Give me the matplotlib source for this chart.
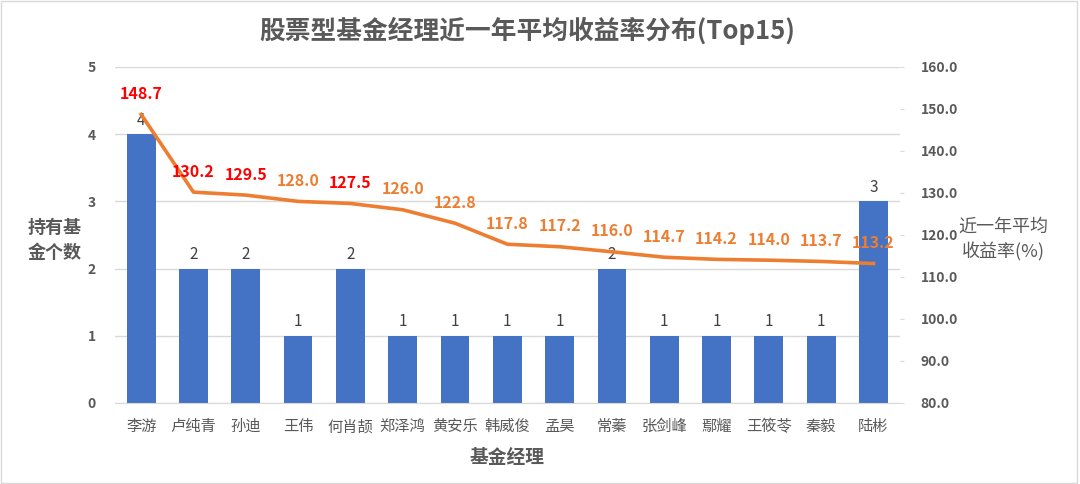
import matplotlib
matplotlib.use("Agg")
import matplotlib.pyplot as plt
from matplotlib.patches import Rectangle

plt.rcParams["font.family"] = ["Noto Sans CJK SC", "DejaVu Sans"]

managers = ["李游", "卢纯青", "孙迪", "王伟", "何肖颉", "郑泽鸿", "黄安乐", "韩威俊",
            "孟昊", "常蓁", "张剑峰", "鄢耀", "王筱苓", "秦毅", "陆彬"]
fund_counts = [4, 2, 2, 1, 2, 1, 1, 1, 1, 2, 1, 1, 1, 1, 3]
avg_returns = [148.7, 130.2, 129.5, 128.0, 127.5, 126.0, 122.8, 117.8,
               117.2, 116.0, 114.7, 114.2, 114.0, 113.7, 113.2]
red_labels = {0, 1, 2, 4}

BAR = "#4472C4"
LINE = "#ED7D31"
GREY = "#595959"

fig = plt.figure(figsize=(10.8, 4.84), dpi=100)
ax = fig.add_axes([0.1065, 0.1674, 0.7265, 0.6942])
x = list(range(len(managers)))

ax.bar(x, fund_counts, width=0.55, color=BAR, zorder=2)
for xi, c in zip(x, fund_counts):
    ax.annotate(str(c), (xi, c), xytext=(0, 4), textcoords="offset points",
                ha="center", va="bottom", fontsize=11, color="#404040", zorder=5)

ax.set_ylim(0, 5)
ax.set_xlim(-0.5, len(managers) - 0.5)
ax.set_yticks(range(6))
ax.grid(axis="y", color="#D9D9D9", linewidth=1, zorder=0)
ax.set_xticks(x)
ax.set_xticklabels(managers, fontsize=11, color=GREY)
for lab in ax.get_yticklabels():
    lab.set_fontweight("bold")
ax.tick_params(axis="y", length=0, labelsize=10, labelcolor=GREY, pad=14)
ax.tick_params(axis="x", length=0, pad=11)
for s in ["top", "left", "right"]:
    ax.spines[s].set_visible(False)
ax.spines["bottom"].set_color("#D9D9D9")
ax.set_xlabel("基金经理", fontsize=13.5, fontweight="bold", color=GREY, labelpad=9)

# line on a second axis
ax2 = ax.twinx()
ax2.plot(x, avg_returns, color=LINE, linewidth=2.6, zorder=3)
ax2.set_ylim(80, 160)
ax2.set_yticks(range(80, 161, 10))
ax2.set_yticklabels([f"{v:.1f}" for v in range(80, 161, 10)], fontweight="bold")
ax2.tick_params(axis="y", length=3, color="#D9D9D9", labelsize=10, labelcolor=GREY, pad=12)
for s in ["top", "left", "right", "bottom"]:
    ax2.spines[s].set_visible(False)
for i, (xi, v) in enumerate(zip(x, avg_returns)):
    ax2.annotate(f"{v:.1f}", (xi, v), xytext=(0, 9), textcoords="offset points",
                 ha="center", va="bottom", fontsize=11.5, fontweight="bold",
                 color="#FF0000" if i in red_labels else LINE, zorder=6)

fig.text(0.488, 0.936, "股票型基金经理近一年平均收益率分布(Top15)", ha="center", va="center",
         fontsize=18.5, fontweight="bold", color=GREY)
fig.text(0.051, 0.505, "持有基\n金个数", ha="center", va="center", fontsize=13,
         fontweight="bold", color=GREY, linespacing=1.4)
fig.text(0.929, 0.505, "近一年平均\n收益率(%)", ha="center", va="center", fontsize=13,
         color=GREY, linespacing=1.4)

fig.patches.append(Rectangle((0.001, 0.002), 0.996, 0.996, transform=fig.transFigure,
                             fill=False, edgecolor="#D9D9D9", linewidth=1))

fig.savefig("out.png", dpi=100)
